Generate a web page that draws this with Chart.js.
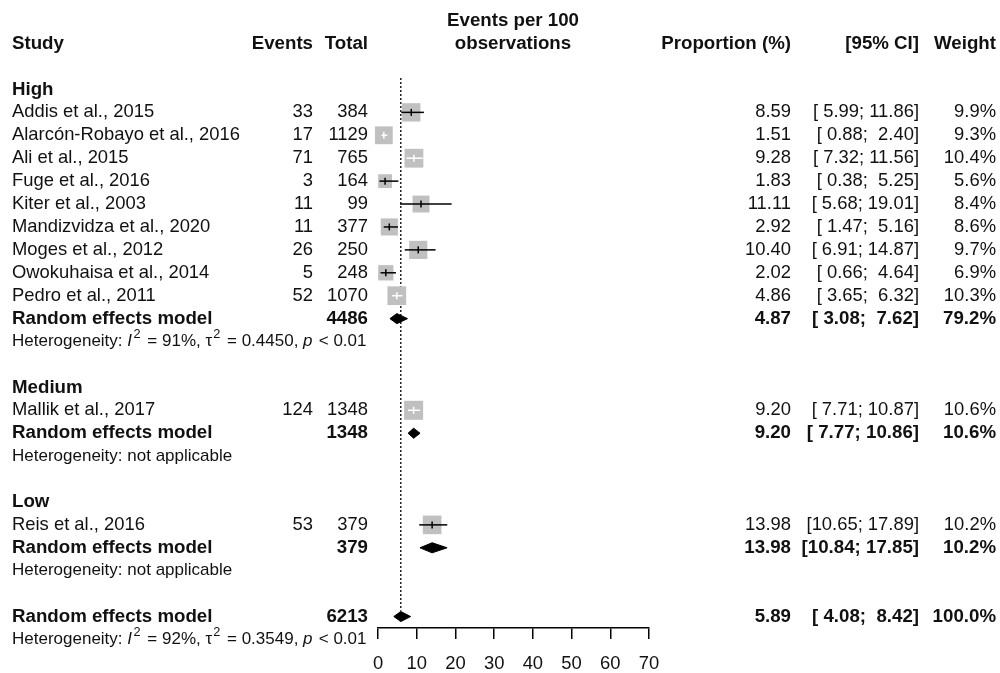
<!DOCTYPE html>
<html>
<head>
<meta charset="utf-8">
<script src="https://cdn.jsdelivr.net/npm/chart.js@4/dist/chart.umd.min.js"></script>
<style>
  html, body { margin: 0; padding: 0; background: #fff; }
</style>
</head>
<body>
<canvas id="forest" width="1000" height="673"></canvas>
<script>
// study level data
const studies = [
  'Addis et al., 2015',
  'Alarcón-Robayo et al., 2016',
  'Ali et al., 2015',
  'Fuge et al., 2016',
  'Kiter et al., 2003',
  'Mandizvidza et al., 2020',
  'Moges et al., 2012',
  'Owokuhaisa et al., 2014',
  'Pedro et al., 2011',
  'Mallik et al., 2017',
  'Reis et al., 2016',
];
const events = [33, 17, 71, 3, 11, 11, 26, 5, 52, 124, 53];
const totals = [384, 1129, 765, 164, 99, 377, 250, 248, 1070, 1348, 379];
const proportions = [8.59, 1.51, 9.28, 1.83, 11.11, 2.92, 10.40, 2.02, 4.86, 9.20, 13.98];
const ciLower = [5.99, 0.88, 7.32, 0.38, 5.68, 1.47, 6.91, 0.66, 3.65, 7.71, 10.65];
const ciUpper = [11.86, 2.40, 11.56, 5.25, 19.01, 5.16, 14.87, 4.64, 6.32, 10.87, 17.89];
const weights = [9.9, 9.3, 10.4, 5.6, 8.4, 8.6, 9.7, 6.9, 10.3, 10.6, 10.2];
const studyRows = [0, 1, 2, 3, 4, 5, 6, 7, 8, 13, 18];
const ciInsideBox = [false, true, true, false, false, false, false, false, true, true, false];

// subgroups
const groups = ['High', 'Medium', 'Low'];
const groupRows = [-1, 12, 17];

// random effects summaries (3 subgroups + overall)
const summaryTotals = [4486, 1348, 379, 6213];
const summaryEst = [4.87, 9.20, 13.98, 5.89];
const summaryLower = [3.08, 7.77, 10.84, 4.08];
const summaryUpper = [7.62, 10.86, 17.85, 8.42];
const summaryWeights = [79.2, 10.6, 10.2, 100.0];
const summaryRows = [9, 14, 19, 22];

// heterogeneity lines
const hetRows = [10, 15, 20, 23];
const hetI2 = ['91%', null, null, '92%'];
const hetTau2 = ['0.4450', null, null, '0.3549'];
const hetP = ['< 0.01', null, null, '< 0.01'];

const xTicks = [0, 10, 20, 30, 40, 50, 60, 70];

const FONT = "'Liberation Sans', Arial, sans-serif";
const FS = 18.4;   // regular
const FSB = 18.7;  // bold
const FSH = 17;    // heterogeneity lines
const TEXT = '#111';
const BOX = 'rgb(192,192,192)';
const DIAMOND_H = 0.22;

const fmt2 = v => v.toFixed(2);
const fmtCI = (lo, hi) => '[' + fmt2(lo).padStart(5, ' ') + '; ' + fmt2(hi).padStart(5, ' ') + ']';

const col = { study: 12, events: 313, total: 368, prop: 791, ci: 919, weight: 996, plotMid: 513 };

function drawRich(ctx, parts, x, y) {
  let cx = x;
  parts.forEach(p => {
    const s = p.sup ? FSH * 0.75 : FSH;
    ctx.font = (p.italic ? 'italic ' : '') + s + 'px ' + FONT;
    ctx.fillText(p.t, cx, p.sup ? y - FSH * 0.42 : y);
    cx += ctx.measureText(p.t).width + (p.gap || 0);
  });
}

const tablePlugin = {
  id: 'forestTable',
  afterDraw(chart) {
    const ctx = chart.ctx;
    const ys = chart.scales.y;
    const py = r => ys.getPixelForValue(r);
    ctx.save();
    ctx.fillStyle = TEXT;
    ctx.textBaseline = 'middle';

    // headers
    ctx.font = 'bold ' + FSB + 'px ' + FONT;
    ctx.textAlign = 'left';
    ctx.fillText('Study', col.study, py(-3));
    ctx.textAlign = 'right';
    ctx.fillText('Events', col.events, py(-3));
    ctx.fillText('Total', col.total, py(-3));
    ctx.fillText('Proportion (%)', col.prop, py(-3));
    ctx.fillText('[95% CI]', col.ci, py(-3));
    ctx.fillText('Weight', col.weight, py(-3));
    ctx.textAlign = 'center';
    ctx.fillText('Events per 100', col.plotMid, py(-4));
    ctx.fillText('observations', col.plotMid, py(-3));

    // subgroup labels
    ctx.textAlign = 'left';
    groups.forEach((g, i) => ctx.fillText(g, col.study, py(groupRows[i])));

    // studies
    ctx.font = FS + 'px ' + FONT;
    studies.forEach((s, i) => {
      const y = py(studyRows[i]);
      ctx.textAlign = 'left';
      ctx.fillText(s, col.study, y);
      ctx.textAlign = 'right';
      ctx.fillText(String(events[i]), col.events, y);
      ctx.fillText(String(totals[i]), col.total, y);
      ctx.fillText(fmt2(proportions[i]), col.prop, y);
      ctx.fillText(fmtCI(ciLower[i], ciUpper[i]), col.ci, y);
      ctx.fillText(weights[i].toFixed(1) + '%', col.weight, y);
    });

    // summaries
    ctx.font = 'bold ' + FSB + 'px ' + FONT;
    summaryRows.forEach((r, i) => {
      const y = py(r);
      ctx.textAlign = 'left';
      ctx.fillText('Random effects model', col.study, y);
      ctx.textAlign = 'right';
      ctx.fillText(String(summaryTotals[i]), col.total, y);
      ctx.fillText(fmt2(summaryEst[i]), col.prop, y);
      ctx.fillText(fmtCI(summaryLower[i], summaryUpper[i]), col.ci, y);
      ctx.fillText(summaryWeights[i].toFixed(1) + '%', col.weight, y);
    });

    // heterogeneity
    ctx.textAlign = 'left';
    hetRows.forEach((r, i) => {
      const y = py(r);
      if (hetI2[i] === null) {
        drawRich(ctx, [{ t: 'Heterogeneity: not applicable' }], col.study, y);
      } else {
        drawRich(ctx, [
          { t: 'Heterogeneity: ' },
          { t: 'I', italic: true, gap: 1.5 },
          { t: '2', sup: true, gap: 2 },
          { t: ' = ' + hetI2[i] + ', ' },
          { t: 'τ', gap: 1 },
          { t: '2', sup: true, gap: 2 },
          { t: ' = ' + hetTau2[i] + ', ' },
          { t: 'p', italic: true, gap: 1.5 },
          { t: ' ' + hetP[i] },
        ], col.study, y);
      }
    });
    ctx.restore();
  }
};

const refLine = {
  type: 'scatter',
  data: [{ x: summaryEst[3], y: -1.5 }, { x: summaryEst[3], y: 21.75 }],
  showLine: true,
  borderColor: '#000',
  borderWidth: 1.3,
  borderDash: [2, 2],
  pointRadius: 0,
  order: 5,
  clip: false,
};

const boxes = {
  type: 'scatter',
  data: studyRows.map((r, i) => ({ x: proportions[i], y: r })),
  pointStyle: 'rect',
  pointRadius: weights.map(w => 19 * Math.sqrt(w / 10.6) / Math.SQRT2),
  backgroundColor: BOX,
  borderWidth: 0,
  order: 4,
  clip: false,
};

const ciLines = studyRows.map((r, i) => ({
  type: 'scatter',
  data: [{ x: ciLower[i], y: r }, { x: ciUpper[i], y: r }],
  showLine: true,
  borderColor: ciInsideBox[i] ? '#fff' : '#000',
  borderWidth: 1.5,
  pointRadius: 0,
  order: 2,
  clip: false,
}));

const estTicks = {
  type: 'scatter',
  data: studyRows.map((r, i) => ({ x: proportions[i], y: r })),
  pointStyle: 'line',
  rotation: 90,
  pointRadius: 3.5,
  pointBorderWidth: 1.5,
  pointBorderColor: ciInsideBox.map(b => b ? '#fff' : '#000'),
  order: 1,
  clip: false,
};

const diamonds = summaryRows.map((r, i) => ({
  type: 'scatter',
  data: [
    { x: summaryLower[i], y: r },
    { x: summaryEst[i], y: r - DIAMOND_H },
    { x: summaryUpper[i], y: r },
    { x: summaryEst[i], y: r + DIAMOND_H },
    { x: summaryLower[i], y: r },
  ],
  showLine: true,
  fill: 'shape',
  backgroundColor: '#000',
  borderColor: '#000',
  borderWidth: 1,
  pointRadius: 0,
  order: 3,
  clip: false,
}));

const config = {
  type: 'scatter',
  data: { datasets: [refLine, boxes, ...ciLines, estTicks, ...diamonds] },
  options: {
    responsive: false,
    animation: false,
    events: [],
    layout: { padding: { left: 378, right: 351, top: 78, bottom: 0 } },
    plugins: { legend: { display: false }, tooltip: { enabled: false } },
    scales: {
      x: {
        type: 'linear',
        min: 0,
        max: 70,
        afterBuildTicks: s => { s.ticks = xTicks.map(v => ({ value: v })); },
        afterFit: s => { s.height = 45; },
        grid: { drawOnChartArea: false, drawTicks: true, tickLength: 11, color: '#000', lineWidth: 1.5 },
        border: { display: true, color: '#000', width: 1.5 },
        ticks: { padding: 16, color: TEXT, font: { family: FONT, size: FS, lineHeight: 1 }, maxRotation: 0 },
      },
      y: { type: 'linear', display: false, reverse: true, min: -1.5, max: 22.5 },
    },
  },
  plugins: [tablePlugin],
};

const forestChart = new Chart(document.getElementById('forest'), config);
</script>
</body>
</html>
